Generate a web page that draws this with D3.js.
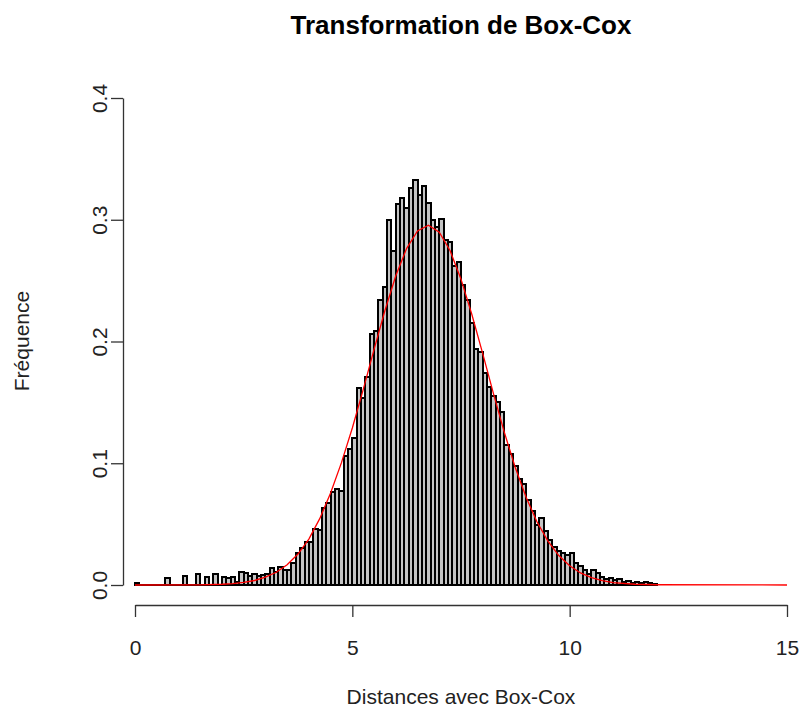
<!DOCTYPE html>
<html>
<head>
<meta charset="utf-8">
<script src="https://cdn.jsdelivr.net/npm/d3@7"></script>
<style>
  body { margin: 0; background: #fff; }
  svg { font-family: "Liberation Sans", Arial, sans-serif; }
</style>
</head>
<body>
<script>
// histogram: bins of width 0.1 starting at 0 (density values)
var binWidth = 0.1;
var density = [
  0.002, 0, 0, 0, 0, 0, 0, 0.0055, 0, 0,
  0, 0.0077, 0, 0, 0.009, 0, 0.0063, 0, 0.0088, 0,
  0.0065, 0.0055, 0.0065, 0.0025, 0.011, 0.0096, 0.0074, 0.0088, 0.0072, 0.0085,
  0.009, 0.014, 0.011, 0.015, 0.012, 0.012, 0.018, 0.026, 0.030, 0.035,
  0.035, 0.046, 0.045, 0.063, 0.067, 0.076, 0.079, 0.077, 0.106, 0.112,
  0.121, 0.162, 0.154, 0.171, 0.206, 0.209, 0.234, 0.245, 0.300, 0.274,
  0.313, 0.318, 0.310, 0.326, 0.333, 0.320, 0.328, 0.314, 0.300, 0.294,
  0.301, 0.283, 0.282, 0.262, 0.265, 0.246, 0.234, 0.215, 0.194, 0.191,
  0.174, 0.163, 0.155, 0.150, 0.142, 0.115, 0.108, 0.098, 0.087, 0.083,
  0.070, 0.061, 0.049, 0.055, 0.044, 0.037, 0.031, 0.028, 0.026, 0.025,
  0.026, 0.018, 0.016, 0.012, 0.009, 0.012, 0.0095, 0.0063, 0.005, 0.0055,
  0.0045, 0.005, 0.0025, 0.0035, 0.002, 0.0025, 0.002, 0.0025, 0.0015, 0.001
];

// red density curve
var curveX = [0, 1.5, 2, 2.25, 2.5, 2.75, 3, 3.25, 3.5, 3.75, 4, 4.25, 4.5, 4.75,
  5, 5.25, 5.5, 5.75, 6, 6.25, 6.5, 6.75, 7, 7.25, 7.5, 7.75, 8, 8.25, 8.5, 8.75,
  9, 9.25, 9.5, 9.75, 10, 10.25, 10.5, 10.75, 11, 11.5, 12, 15];
var curveY = [0, 0.0001, 0.0006, 0.0012, 0.0021, 0.0037, 0.0064, 0.0105, 0.0166, 0.0254, 0.0377, 0.0545, 0.0755, 0.1005,
  0.129, 0.1605, 0.1935, 0.2255, 0.254, 0.2765, 0.2908, 0.2955, 0.2898, 0.2745, 0.2512, 0.2222, 0.19, 0.1568, 0.125, 0.0963,
  0.0718, 0.0517, 0.036, 0.0242, 0.0158, 0.0099, 0.006, 0.0035, 0.002, 0.0006, 0.0002, 0];

var xTicks = [0, 5, 10, 15];
var yTicks = [0, 0.1, 0.2, 0.3, 0.4];

var title = "Transformation de Box-Cox",
    xTitle = "Distances avec Box-Cox",
    yTitle = "Fréquence";

var W = 802, H = 709;

var x = d3.scaleLinear().domain([0, 15]).range([135, 787]);
var y = d3.scaleLinear().domain([0, 0.4]).range([585, 98]);

var svg = d3.select("body").append("svg")
    .attr("width", W)
    .attr("height", H);

// bars (paths so that empty bins still show as a line on the baseline)
svg.append("g")
    .selectAll("path")
    .data(density)
    .enter().append("path")
    .attr("d", function (d, i) {
        var x0 = Math.round(x(i * binWidth)), x1 = Math.round(x((i + 1) * binWidth));
        var y0 = Math.round(y(0)), y1 = Math.round(y(d));
        return "M" + x0 + "," + y0 + "V" + y1 + "H" + x1 + "V" + y0 + "Z";
    })
    .attr("fill", "#c4c4c4")
    .attr("stroke", "#000")
    .attr("stroke-width", 2);

// density curve
var line = d3.line()
    .x(function (d, i) { return x(curveX[i]); })
    .y(function (d) { return y(d); });

svg.append("path")
    .datum(curveY)
    .attr("d", line)
    .attr("fill", "none")
    .attr("stroke", "#ff0000")
    .attr("stroke-width", 1.3);

// x axis
var gx = svg.append("g")
    .attr("transform", "translate(0,605)")
    .call(d3.axisBottom(x).tickValues(xTicks).tickSize(12).tickSizeOuter(0).tickFormat(d3.format("d")));
gx.select(".domain").attr("stroke", "#333").attr("stroke-width", 1.3);
gx.selectAll(".tick line").attr("stroke", "#333").attr("stroke-width", 1.3);
gx.selectAll(".tick text")
    .attr("y", 50)
    .attr("dy", 0)
    .style("font-size", "21px")
    .style("font-family", "Liberation Sans, Arial, sans-serif")
    .attr("fill", "#222");

// y axis
var gy = svg.append("g")
    .attr("transform", "translate(123,0)")
    .call(d3.axisLeft(y).tickValues(yTicks).tickSize(12).tickSizeOuter(0).tickFormat(d3.format(".1f")));
gy.select(".domain").attr("stroke", "#333").attr("stroke-width", 1.3);
gy.selectAll(".tick line").attr("stroke", "#333").attr("stroke-width", 1.3);
gy.selectAll(".tick text")
    .attr("transform", "rotate(-90)")
    .attr("x", 0)
    .attr("y", -23)
    .attr("dy", "0.35em")
    .style("text-anchor", "middle")
    .style("font-size", "21px")
    .style("font-family", "Liberation Sans, Arial, sans-serif")
    .attr("fill", "#222");

// titles
svg.append("text")
    .attr("x", 461)
    .attr("y", 34)
    .attr("text-anchor", "middle")
    .style("font-size", "26px")
    .style("font-weight", "bold")
    .attr("fill", "#000")
    .text(title);

svg.append("text")
    .attr("x", 461)
    .attr("y", 704)
    .attr("text-anchor", "middle")
    .style("font-size", "21px")
    .attr("fill", "#222")
    .text(xTitle);

svg.append("text")
    .attr("transform", "translate(29,341) rotate(-90)")
    .attr("text-anchor", "middle")
    .style("font-size", "21px")
    .attr("fill", "#222")
    .text(yTitle);
</script>
</body>
</html>
